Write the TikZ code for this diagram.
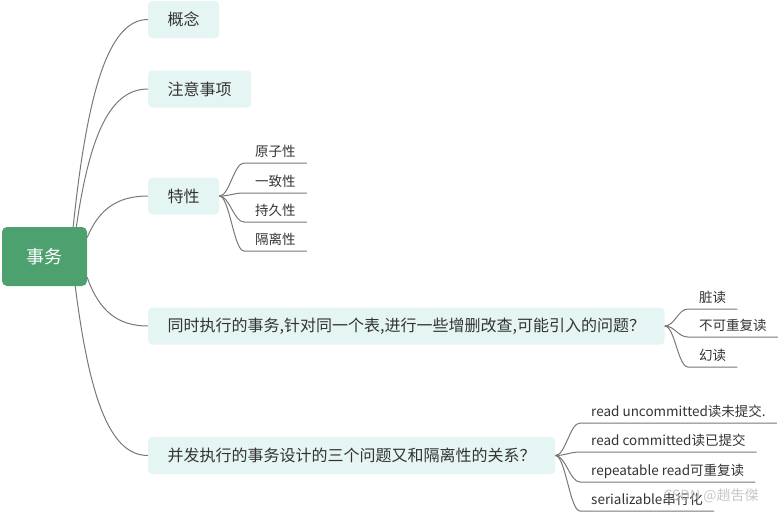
\documentclass[tikz,border=0pt]{standalone}
\usepackage{fontspec}
\setmainfont{Noto Sans CJK SC}
\usetikzlibrary{positioning}

\definecolor{rootgreen}{RGB}{76,161,110}
\definecolor{topicfill}{RGB}{229,245,243}
\definecolor{branchgray}{RGB}{120,120,120}
\definecolor{textdark}{RGB}{51,51,51}

\begin{document}
\begin{tikzpicture}[
    x=1pt, y=-1pt,
    % Styles for the mind map
    root/.style={fill=rootgreen, rounded corners=5pt, text=white,
        font=\fontsize{18}{20}\selectfont, minimum width=85pt, minimum height=59pt},
    topic/.style={fill=topicfill, rounded corners=4pt, text=textdark,
        font=\fontsize{16}{18}\selectfont, inner xsep=19.5pt, minimum height=37pt, anchor=west},
    leaf/.style={text=textdark, font=\fontsize{13.5}{16}\selectfont,
        inner xsep=11pt, inner ysep=3pt, text height=10.5pt, text depth=3pt, anchor=south west},
    branch/.style={draw=branchgray, line width=1pt}
]
    \useasboundingbox (0,0) rectangle (778,512);

        % --- Root ---
        \node[root] (sw) at (44.5, 256.5) {事务};

        % --- Main topics ---
        \node[topic] (gn) at (148, 19.5) {概念};
        \node[topic] (zy) at (148, 89) {注意事项};
        \node[topic] (tx) at (148, 196) {特性};
        \node[topic] (wt) at (148, 326) {同时执行的事务,针对同一个表,进行一些增删改查,可能引入的问题？};
        \node[topic] (gx) at (148, 455.5) {并发执行的事务设计的三个问题又和隔离性的关系？};

        % --- Leaves ---
        % Leaves of 特性
        \node[leaf] (yzx) at (244, 163) {原子性};
        \node[leaf] (yzh) at (244, 193) {一致性};
        \node[leaf] (cjx) at (244, 222) {持久性};
        \node[leaf] (glx) at (244, 251) {隔离性};

        % Leaves of the problem topic
        \node[leaf] (zd) at (688, 309) {脏读};
        \node[leaf] (bkc) at (688, 337) {不可重复读};
        \node[leaf] (hd) at (688, 367) {幻读};

        % Leaves of the isolation topic
        \node[leaf] (ru) at (580, 423) {read uncommitted读未提交.};
        \node[leaf] (rc) at (580, 452) {read committed读已提交};
        \node[leaf] (rr) at (580, 482) {repeatable read可重复读};
        \node[leaf] (sr) at (580, 511) {serializable串行化};

        % --- Branches ---
        % Root to topics
        \draw[branch] (sw.46) .. controls +(15,-145) and +(-37,0) .. (gn.west);
        \draw[branch] (sw.43) .. controls +(14,-97) and +(-36,0) .. (zy.west);
        \draw[branch] (sw.24) .. controls +(12,-29) and +(-30,0) .. (tx.west);
        \draw[branch] (sw.-26) .. controls +(12,34) and +(-30,0) .. (wt.west);
        \draw[branch] (sw.-44) .. controls +(15,119) and +(-36,0) .. (gx.west);

        % Topics to leaves, each ending in the leaf's underline
        \foreach \l in {yzx, yzh, cjx, glx}
            \draw[branch] (tx.east) .. controls +(10,0) and +(-10,0) .. (\l.south west) -- (\l.south east);
        \foreach \l in {zd, bkc, hd}
            \draw[branch] (wt.east) .. controls +(10,0) and +(-10,0) .. (\l.south west) -- (\l.south east);
        \foreach \l in {ru, rc, rr, sr}
            \draw[branch] (gx.east) .. controls +(10,0) and +(-10,0) .. (\l.south west) -- (\l.south east);

        % Watermark
        \node[text=gray!55, opacity=0.8, font=\fontsize{14}{16}\selectfont, anchor=west] (wm) at (660, 496) {CSDN @趙吿傑};

    \end{tikzpicture}
\end{document}
